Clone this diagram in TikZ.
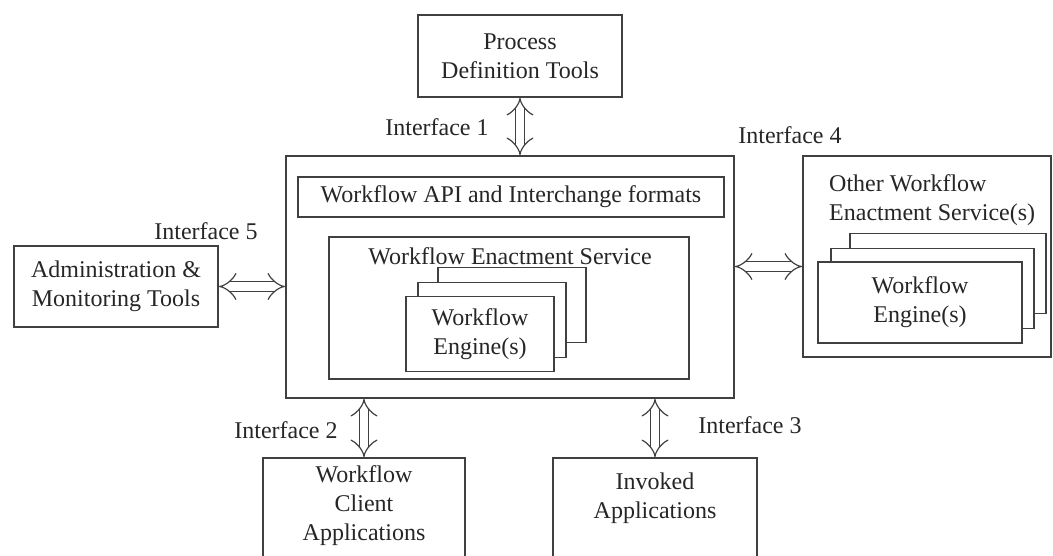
\documentclass[tikz,border=0pt]{standalone}
\usepackage{fontspec}
\setmainfont{Liberation Serif}
\usetikzlibrary{arrows.meta,calc,positioning}
\tikzset{box/.style={shape=rectangle,draw=black!75,line width=1.4pt,fill=white,inner sep=0pt}}
\tikzset{txt/.style={align=center,inner sep=0pt,text=black!85,font=\fontsize{24}{29}\selectfont}}
\tikzset{link/.style={draw=black!75,line width=1.2pt,double=white,double distance=8.5pt,{Implies}-{Implies}}}

\begin{document}
\begin{tikzpicture}[x=1pt,y=-1pt]
  \clip (0,0) rectangle (1053,555);

  % Tools round the engine
  \node[box,txt,minimum width=204pt,minimum height=82pt] (pdt) at (520,56) {Process\\Definition Tools};
  \node[box,txt,minimum width=204pt,minimum height=81pt] (admin) at (116,286.5) {Administration \&\\Monitoring Tools};
  \node[box,minimum width=202pt,minimum height=130pt] (client) at (364,523) {};
  \node[box,minimum width=204pt,minimum height=130pt] (invoked) at (655,523) {};
  \node[txt] (client-text) at (364,505.5) {Workflow\\Client\\Applications};
  \node[txt] (invoked-text) at (655,498.5) {Invoked\\Applications};

  % Main service
  \node[box,minimum width=448pt,minimum height=242pt] (main) at (510,277) {};
  \node[box,txt,minimum width=426pt,minimum height=40pt] (api) at (511,197) {Workflow API and Interchange formats};
  \node[box,minimum width=360pt,minimum height=142pt] (wes) at (509,308) {};
  \node[txt] (wes-title) at (510,256) {Workflow Enactment Service};
  \foreach \dx/\dy/\n in {32/-29/3,12/-14/2}
    \node[box,minimum width=148pt,minimum height=75pt] (eng-\n) at (480+\dx,334+\dy) {};
  \node[box,txt,minimum width=148pt,minimum height=75pt] (eng-1) at (480,334) {Workflow\\Engine(s)};

  % Other service
  \node[box,minimum width=248pt,minimum height=201pt] (other) at (927,256.5) {};
  \node[txt,anchor=west,align=left] (other-title) at (829,200) {Other Workflow\\Enactment Service(s)};
  \foreach \x/\y/\w/\n in {948/273.5/196/3,932.5/288.5/203/2}
    \node[box,minimum width=\w pt,minimum height=80pt] (oeng-\n) at (\x,\y) {};
  \node[box,txt,minimum width=204pt,minimum height=81pt] (oeng-1) at (920,302.5) {Workflow\\Engine(s)};

  % Interfaces
  \draw[link] (pdt.south) -- (pdt.south |- main.north);
  \draw[link] (admin.east) -- (admin.east -| main.west);
  \draw[link] ([yshift=-10pt]other.west) -- ([yshift=-10pt]other.west -| main.east);
  \draw[link] (client.north |- main.south) -- (client.north);
  \draw[link] (invoked.north |- main.south) -- (invoked.north);
  \node[txt] (if1) at (437,127) {Interface 1};
  \node[txt] (if2) at (286,430) {Interface 2};
  \node[txt] (if3) at (750,425) {Interface 3};
  \node[txt] (if4) at (790,135) {Interface 4};
  \node[txt] (if5) at (206,231) {Interface 5};
\end{tikzpicture}
\end{document}
